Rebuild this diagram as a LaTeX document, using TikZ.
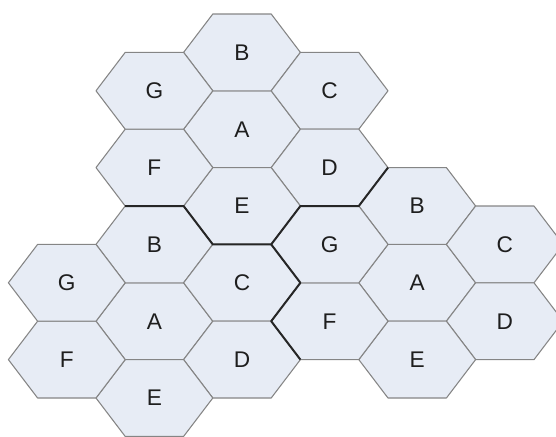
\documentclass[tikz,border=0pt]{standalone}
\usepackage{fontspec}
\setmainfont{Liberation Sans}
\usetikzlibrary{calc}
\definecolor{hxink}{HTML}{1E1E1E}
\definecolor{hxedge}{HTML}{858585}
\definecolor{hxfill}{HTML}{E7ECF5}
\definecolor{hxbound}{HTML}{262626}
\tikzset{
  hx cell/.style={draw=hxedge, line width=0.8pt, fill=hxfill, line join=round},
  hx label/.style={font=\fontsize{17}{17}\selectfont, text=hxink, inner sep=0pt},
  hx boundary/.style={draw=hxbound, line width=1.5pt, line join=round}
}

\begin{document}
\begin{tikzpicture}[x=0.75pt, y=-0.75pt]
  \clip (0,0) rectangle (556,436);
  % clusters: top, lower left, right
  \foreach \cl/\ci/\cj in {t/0/0, l/-1/5, r/2/4} {
    \foreach \lab/\di/\dj in {A/0/0, B/0/-2, C/1/-1, D/1/1, E/0/2, F/-1/1, G/-1/-1} {
      \coordinate (c) at ({242+87.6*(\ci+\di)}, {129.2+38.4*(\cj+\dj)});
      \draw[hx cell] (c) ++(58.4,0) -- ++(-29.2,38.4) -- ++(-58.4,0)
        -- ++(-29.2,-38.4) -- ++(29.2,-38.4) -- ++(58.4,0) -- cycle;
      \node[hx label] (\cl-\lab) at (c) {\lab};
    }
  }
  % co-channel cluster borders
  \draw[hx boundary] (125.2,206) -- (183.6,206) -- (212.8,244.4) -- (271.2,244.4)
    -- (300.4,206) -- (358.8,206) -- (388,167.6);
  \draw[hx boundary] (271.2,244.4) -- (300.4,282.8) -- (271.2,321.2) -- (300.4,359.6);
\end{tikzpicture}
\end{document}
